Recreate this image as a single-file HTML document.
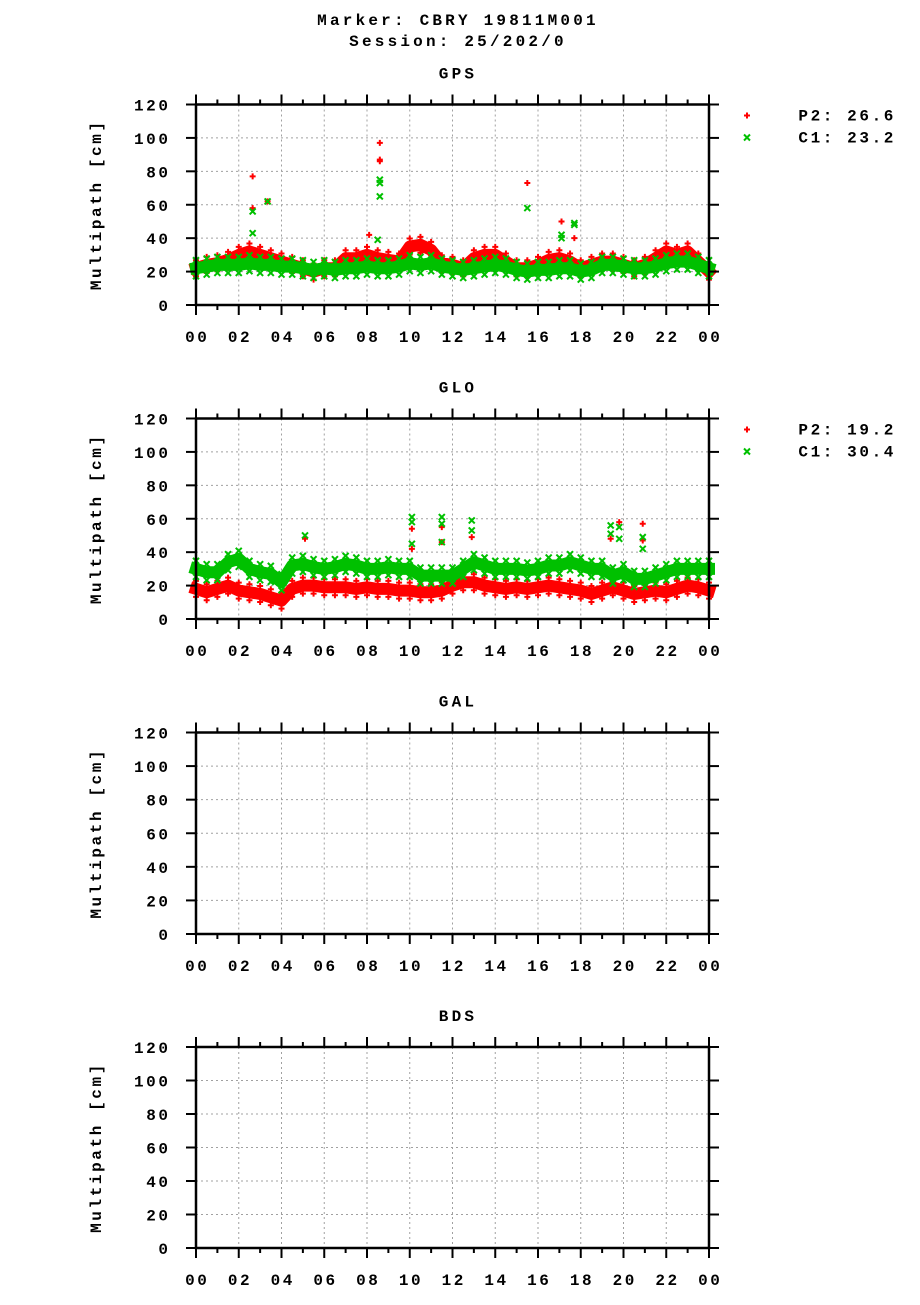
<!DOCTYPE html>
<html><head><meta charset="utf-8"><style>
html,body{margin:0;padding:0;background:#fff;}
svg text{font-family:"Liberation Mono",monospace;font-weight:bold;fill:#000;letter-spacing:2.6px;}
</style></head><body>
<svg id="chart" xmlns="http://www.w3.org/2000/svg" width="920" height="1300" viewBox="0 0 920 1300">
<text x="458" y="25" font-size="16" text-anchor="middle" style="letter-spacing:3.2px">Marker: CBRY 19811M001</text>
<text x="458" y="46" font-size="16" text-anchor="middle" style="letter-spacing:3.2px">Session: 25/202/0</text>
</svg>
<script>
// hours sampled every 0.5h from 0 to 24
const gpsP2 = [22,24,25,27,30,32,30,28,26,24,22,20,22,22,28,28,30,28,27,26,35,36,33,25,24,22,28,30,30,26,22,22,24,27,28,26,22,24,26,26,24,22,24,28,32,30,32,26,20];
const gpsC1 = [22,23,24,24,24,25,24,24,23,23,22,21,22,21,22,22,23,22,22,23,25,24,25,23,22,21,22,23,24,23,21,20,21,21,22,22,20,21,24,24,23,22,22,23,25,26,26,24,22];
const gloP2 = [18,16,18,20,17,16,15,13,11,18,20,20,19,19,19,18,19,18,18,17,17,16,16,17,20,22,22,20,19,18,19,18,19,20,19,18,17,15,17,19,17,15,16,17,16,18,20,19,17];
const gloC1 = [30,28,28,34,36,30,28,27,22,32,33,31,30,31,33,32,30,30,31,30,30,26,26,26,26,30,34,32,30,30,30,29,30,32,32,34,32,30,30,26,28,24,24,26,28,30,30,30,30];
const gpsP2OutT = [2.65,2.65,3.35,8.6,8.6,8.6,15.5,17.1,17.7,8.1];
const gpsP2OutV = [77,58,62,97,87,86,73,50,40,42];
const gpsC1OutT = [2.65,2.65,3.35,8.6,8.6,8.6,8.5,15.5,17.1,17.1,17.7,17.7];
const gpsC1OutV = [56,43,62,75,73,65,39,58,42,40,49,48];
const gloP2OutT = [5.1,10.1,10.1,11.5,11.5,12.9,19.4,19.8,20.9,20.9];
const gloP2OutV = [48,54,42,55,46,49,48,58,57,47];
const gloC1OutT = [5.1,10.1,10.1,10.1,11.5,11.5,11.5,12.9,12.9,19.4,19.4,19.8,19.8,20.9,20.9];
const gloC1OutV = [50,61,58,45,61,57,46,59,53,56,51,55,48,49,42];
const xTickLabels = ["00","02","04","06","08","10","12","14","16","18","20","22","00"];
const yTickLabels = [0,20,40,60,80,100,120];
const panelNames = ["GPS","GLO","GAL","BDS"];
const gpsLegend = ["P2: 26.6","C1: 23.2"];
const gloLegend = ["P2: 19.2","C1: 30.4"];

const NS="http://www.w3.org/2000/svg";
const svg=document.getElementById('chart');
function mk(tag,attrs,parent){const e=document.createElementNS(NS,tag);for(const k in attrs)e.setAttribute(k,attrs[k]);(parent||svg).appendChild(e);return e;}
const X0=196,X1=709;
const RED="#ff0000",GREEN="#00c000";
function plusMarker(g,x,y,c){mk('path',{d:`M${x-3} ${y}h6M${x} ${y-3}v6`,stroke:c,'stroke-width':2},g);}
function xMarker(g,x,y,c){mk('path',{d:`M${x-3} ${y-3}l6 6M${x+3} ${y-3}l-6 6`,stroke:c,'stroke-width':2},g);}

const panels=[
 {top:104.5,bot:305,series:[[gpsP2,RED,gpsP2OutT,gpsP2OutV,'gps-p2'],[gpsC1,GREEN,gpsC1OutT,gpsC1OutV,'gps-c1']],legend:gpsLegend},
 {top:418.5,bot:619,series:[[gloP2,RED,gloP2OutT,gloP2OutV,'glo-p2'],[gloC1,GREEN,gloC1OutT,gloC1OutV,'glo-c1']],legend:gloLegend},
 {top:732.5,bot:934,series:[],legend:null},
 {top:1047,bot:1248,series:[],legend:null}
];
panels.forEach((p,pi)=>{
 const g=mk('g',{});
 
 
 const xs=h=>X0+(X1-X0)*h/24;
 const ys=v=>p.bot-(p.bot-p.top)*v/120;
 const t=mk('text',{x:458,y:p.top-26,'font-size':16,'text-anchor':'middle',style:'letter-spacing:3.2px'},g);t.textContent=panelNames[pi];
 
 
 for(let i=1;i<12;i++){const l=mk('line',{x1:xs(i*2),x2:xs(i*2),y1:p.top,y2:p.bot,stroke:'#a0a0a0','stroke-dasharray':'2,3'},g);
  
  }
 for(let i=1;i<6;i++){const v=yTickLabels[i];const l=mk('line',{x1:X0,x2:X1,y1:ys(v),y2:ys(v),stroke:'#a0a0a0','stroke-dasharray':'2,3'},g);
  
  }
 p.series.forEach(([vals,col,ot,ov,nm])=>{
  const sg=mk('g',{},g);
  
  
  const pts=vals.map((v,i)=>xs(i*0.5).toFixed(1)+','+ys(v).toFixed(1)).join(' ');
  mk('polyline',{points:pts,fill:'none',stroke:col,'stroke-width':12,'stroke-linejoin':'round','stroke-linecap':'square'},sg);
  vals.forEach((v,i)=>{const f=col===RED?plusMarker:xMarker;f(sg,xs(i*0.5),ys(v)+8,col);f(sg,xs(i*0.5),ys(v)-8,col);});
  ot.forEach((h,i)=>{(col===RED?plusMarker:xMarker)(sg,xs(h),ys(ov[i]),col);});
 });
 const fr=mk('rect',{x:X0,y:p.top,width:X1-X0,height:p.bot-p.top,fill:'none',stroke:'#000','stroke-width':2.5},g);
 
 
 for(let h=0;h<=24;h++){const len=h%2===0?10:5;
  mk('line',{x1:xs(h),x2:xs(h),y1:p.bot,y2:p.bot+len,stroke:'#000','stroke-width':2},g);
  mk('line',{x1:xs(h),x2:xs(h),y1:p.top,y2:p.top-len,stroke:'#000','stroke-width':2},g);}
 xTickLabels.forEach((s,i)=>{const tt=mk('text',{x:xs(i*2)+1.3,y:p.bot+37,'font-size':16,'text-anchor':'middle'},g);tt.textContent=s;
  
  });
 yTickLabels.forEach(v=>{
  mk('line',{x1:X0-10,x2:X0,y1:ys(v),y2:ys(v),stroke:'#000','stroke-width':2},g);
  mk('line',{x1:X1,x2:X1+10,y1:ys(v),y2:ys(v),stroke:'#000','stroke-width':2},g);
  const tt=mk('text',{x:170.6,y:ys(v)+6,'font-size':16,'text-anchor':'end'},g);tt.textContent=v;
  
  });
 const yl=mk('text',{x:0,y:0,'font-size':16,'text-anchor':'middle',transform:`translate(101,${(p.top+p.bot)/2}) rotate(-90)`},g);yl.textContent='Multipath [cm]';
 
 
 if(p.legend){
  p.legend.forEach((s,i)=>{const y=p.top+16+i*22;
   const lg=mk('g',{},g);
   
   
   (i===0?plusMarker:xMarker)(lg,747,y-5,i===0?RED:GREEN);
   const tt=mk('text',{x:896,y:y,'font-size':16,'text-anchor':'end'},lg);tt.textContent=s;});
 }
});
</script>
</body></html>
